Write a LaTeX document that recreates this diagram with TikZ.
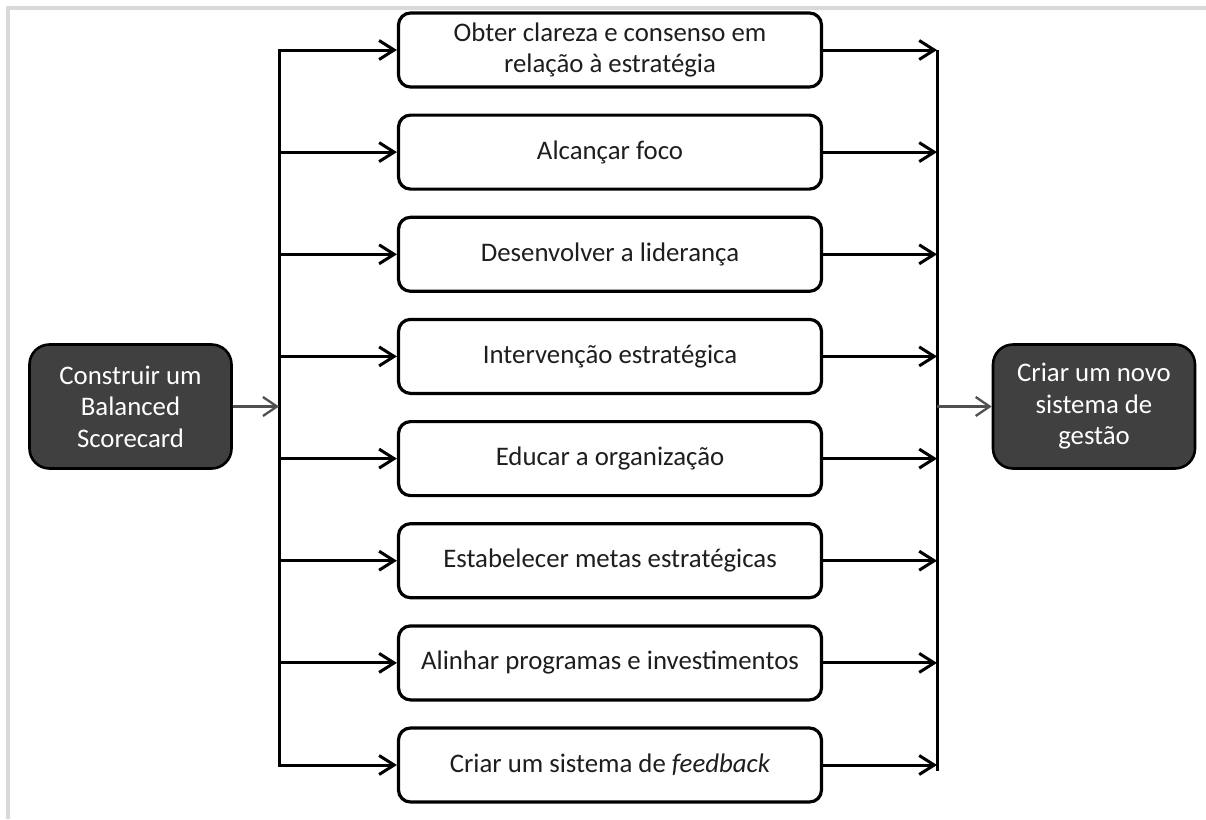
\documentclass[tikz,border=0pt]{standalone}
\usepackage{fontspec}
\setmainfont{Carlito}
\usetikzlibrary{arrows.meta}
\definecolor{framegray}{HTML}{D9D9D9}
\definecolor{darkfill}{HTML}{404040}
\definecolor{linkgray}{HTML}{505050}
\definecolor{inktext}{HTML}{1E1E1E}
\begin{document}
\begin{tikzpicture}[x=1pt,y=-1pt,
  every node/.style={font=\fontsize{26.8}{31.5}\selectfont},
  stepbox/.style={draw=black, line width=3.2pt, rounded corners=12pt, fill=white,
    minimum width=423pt, minimum height=74pt, align=center, text=inktext, inner sep=0pt},
  endbox/.style={draw=black, line width=2.6pt, rounded corners=20pt, fill=darkfill,
    text=white, minimum width=202pt, minimum height=124pt, align=center, inner sep=0pt},
  tip/.tip={Straight Barb[length=15pt,width=19pt]},
  flow/.style={line width=3pt, line join=miter, -tip},
  bar/.style={line width=3pt},
  grayflow/.style={draw=linkgray, line width=2.3pt, -{Straight Barb[length=14pt,width=19pt]}}]
\useasboundingbox (0,0) rectangle (1206,819);

% frame edges at top and left
\fill[framegray] (6,6) rectangle (1206,10);
\fill[framegray] (6,6) rectangle (10,819);

% source and goal
\node[endbox] (src) at (130.5,406.5) {Construir um\\Balanced\\Scorecard};
\node[endbox] (dst) at (1094,406.5) {Criar um novo\\sistema de\\gestão};

% the eight steps
\node[stepbox] (s1) at (610,50)    {Obter clareza e consenso em\\relação à estratégia};
\node[stepbox] (s2) at (610,152.1) {Alcançar foco};
\node[stepbox] (s3) at (610,254.3) {Desenvolver a liderança};
\node[stepbox] (s4) at (610,356.4) {Intervenção estratégica};
\node[stepbox] (s5) at (610,458.6) {Educar a organização};
\node[stepbox] (s6) at (610,560.7) {Estabelecer metas estratégicas};
\node[stepbox] (s7) at (610,662.9) {Alinhar programas e investimentos};
\node[stepbox] (s8) at (610,765)   {Criar um sistema de \textit{feedback}};

% distribution and collection bars
\coordinate (lbar) at (279,0);
\coordinate (rbar) at (937,0);
\coordinate (rbarend) at (937,771);

\draw[flow, tip-tip]
  (s8.west) -- (lbar |- s8.west) -- (lbar |- s1.west) -- (s1.west);
\foreach \i in {2,...,7}
  \draw[flow] (lbar |- s\i.west) -- (s\i.west);

\draw[bar] (rbar |- s1.east) -- (rbarend);
\foreach \i in {1,...,8}
  \draw[flow] (s\i.east) -- (rbar |- s\i.east);

% links from source and to goal
\draw[grayflow] (src.east) -- (lbar |- src.east);
\draw[grayflow] (rbar |- dst.west) -- (dst.west);
\end{tikzpicture}
\end{document}
